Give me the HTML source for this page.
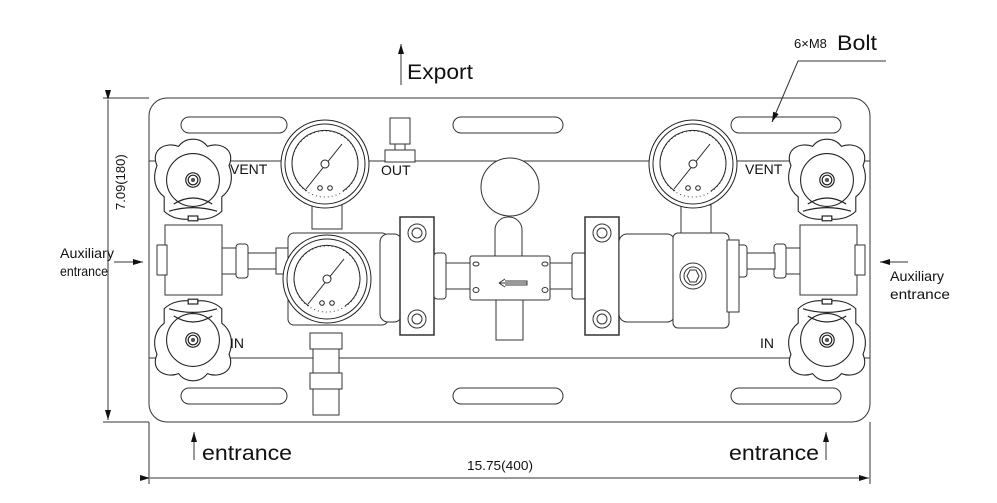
<!DOCTYPE html>
<html><head><meta charset="utf-8"><style>
html,body{margin:0;padding:0;background:#fff}
svg{display:block}
text{font-family:"Liberation Sans",sans-serif;fill:#111}
</style></head><body>
<svg width="997" height="503" viewBox="0 0 997 503" xmlns="http://www.w3.org/2000/svg">
<defs>
<marker id="ah" markerWidth="10" markerHeight="6" refX="10" refY="3" orient="auto" markerUnits="userSpaceOnUse"><path d="M0,0 L10,3 L0,6 Z" fill="#111"/></marker>
<g id="knob">
 <g transform="scale(1.2)">
 <path d="M-30,-12 C-36,-26 -22,-32 -12,-28 C-6,-36 6,-36 12,-28 C22,-32 36,-26 30,-12 C34,-2 32,8 24,14 L24,26 C18,32 8,34 0,32 C-8,34 -18,32 -24,26 L-24,14 C-32,8 -34,-2 -30,-12 Z" fill="#fff" stroke="#222" stroke-width="0.9"/>
 <circle r="22" fill="#fff" stroke="#222" stroke-width="0.9"/>
 <circle r="6" fill="#fff" stroke="#222"/><circle r="4" fill="none" stroke="#222"/><circle r="1.8" fill="#555"/>
 <path d="M-16,20 Q0,10 16,20" fill="none" stroke="#222"/>
 <path d="M-20,26 Q0,20 20,26" fill="none" stroke="#222"/>
 <rect x="-4" y="30" width="8" height="4" fill="#fff" stroke="#222"/>
 </g>
</g>
<g id="gauge">
 <circle r="44" fill="#fff" stroke="#222"/>
 <circle r="40" fill="none" stroke="#222"/>
 <circle r="33" fill="none" stroke="#444" stroke-dasharray="1 3"/>
 <path d="M-18,27 A33,33 0 1 1 18,27" fill="none" stroke="#222"/>
 <line x1="-19" y1="25" x2="17" y2="-20" stroke="#222"/>
 <circle r="4" fill="#fff" stroke="#222"/>
 <circle cx="-5" cy="24" r="2.3" fill="none" stroke="#222"/><circle cx="5" cy="24" r="2.3" fill="none" stroke="#222"/>
</g>
</defs>
<g fill="none" stroke="#333" stroke-width="1">
 <rect x="149" y="98" width="721" height="324" rx="18" fill="#fff"/>
 <line x1="149" y1="161" x2="870" y2="161"/>
 <line x1="149" y1="358" x2="870" y2="358"/>
 <rect x="181" y="117" width="106" height="16" rx="8"/>
 <rect x="453" y="117" width="110" height="16" rx="8"/>
 <rect x="731" y="117" width="110" height="16" rx="8"/>
 <rect x="181" y="388" width="106" height="16" rx="8"/>
 <rect x="453" y="388" width="110" height="16" rx="8"/>
 <rect x="731" y="388" width="110" height="16" rx="8"/>
 <line x1="103" y1="98" x2="149" y2="98"/>
 <line x1="103" y1="422" x2="149" y2="422"/>
 <line x1="108" y1="100" x2="108" y2="420" marker-start="url(#ah)" marker-end="url(#ah)"/>
 <line x1="149" y1="422" x2="149" y2="484"/>
 <line x1="870" y1="422" x2="870" y2="484"/>
 <line x1="150" y1="478" x2="869" y2="478" marker-start="url(#ah)" marker-end="url(#ah)"/>
 <line x1="401" y1="85" x2="401" y2="44" marker-end="url(#ah)"/>
 <line x1="194" y1="460" x2="194" y2="432" marker-end="url(#ah)"/>
 <line x1="826" y1="460" x2="826" y2="432" marker-end="url(#ah)"/>
 <line x1="114" y1="262" x2="143" y2="262" marker-end="url(#ah)"/>
 <line x1="908" y1="262" x2="880" y2="262" marker-end="url(#ah)"/>
 <polyline points="886,61 798,61 772,122" marker-end="url(#ah)"/>
 <rect x="165" y="225" width="57" height="70" fill="#fff"/>
 <rect x="157" y="245" width="10" height="30" fill="#fff"/>
 <rect x="222" y="248" width="14" height="26" fill="#fff"/>
 <rect x="236" y="244" width="12" height="34" rx="3" fill="#fff"/>
 <rect x="248" y="253" width="34" height="16" fill="#fff"/>
 <rect x="276" y="248" width="12" height="26" fill="#fff"/>
 <rect x="800" y="225" width="57" height="70" fill="#fff"/>
 <rect x="855" y="245" width="10" height="30" fill="#fff"/>
 <rect x="786" y="248" width="14" height="26" fill="#fff"/>
 <rect x="774" y="244" width="12" height="34" rx="3" fill="#fff"/>
 <rect x="745" y="253" width="30" height="16" fill="#fff"/>
 <rect x="736" y="245" width="11" height="32" rx="3" fill="#fff"/>
 <rect x="312" y="205" width="30" height="24" fill="#fff"/>
 <rect x="288" y="233" width="100" height="92" rx="6" fill="#fff"/>
 <rect x="380" y="234" width="22" height="88" rx="8" fill="#fff"/>
 <rect x="400" y="217" width="34" height="118" fill="#fff" stroke-width="1.5"/>
 <circle cx="417" cy="233" r="9" fill="#fff"/><circle cx="417" cy="233" r="5"/>
 <circle cx="417" cy="319" r="9" fill="#fff"/><circle cx="417" cy="319" r="5"/>
 <rect x="434" y="253" width="12" height="46" rx="3" fill="#fff"/>
 <rect x="446" y="263" width="24" height="26" fill="#fff"/>
 <rect x="310" y="333" width="32" height="16" fill="#fff"/>
 <rect x="313" y="349" width="26" height="24" fill="#fff"/>
 <rect x="310" y="373" width="32" height="16" fill="#fff"/>
 <rect x="313" y="389" width="26" height="26" fill="#fff"/>
 <rect x="495" y="217" width="27" height="70" rx="13" fill="#fff"/>
 <circle cx="510" cy="187" r="29" fill="#fff"/>
 <rect x="470" y="256" width="80" height="44" rx="2" fill="#fff"/>
 <rect x="496" y="300" width="27" height="40" fill="#fff"/>
 <path d="M527,283 L499,283 M499,283 L505,279 M499,283 L505,287 M505,281 L527,281 L527,285 L505,285"/>
 <ellipse cx="476" cy="264" rx="3" ry="2"/><ellipse cx="545" cy="264" rx="3" ry="2"/>
 <ellipse cx="476" cy="290" rx="3" ry="2.5"/><ellipse cx="545" cy="290" rx="3" ry="2.5"/>
 <rect x="550" y="263" width="22" height="26" fill="#fff"/>
 <rect x="572" y="253" width="14" height="46" rx="3" fill="#fff"/>
 <rect x="585" y="217" width="34" height="118" fill="#fff" stroke-width="1.5"/>
 <circle cx="602" cy="233" r="9" fill="#fff"/><circle cx="602" cy="233" r="5"/>
 <circle cx="602" cy="319" r="9" fill="#fff"/><circle cx="602" cy="319" r="5"/>
 <rect x="619" y="234" width="56" height="88" rx="8" fill="#fff"/>
 <rect x="673" y="233" width="56" height="95" rx="5" fill="#fff"/>
 <rect x="727" y="240" width="12" height="72" fill="#fff"/>
 <rect x="681" y="205" width="30" height="28" fill="#fff"/>
 <circle cx="693" cy="276" r="13" fill="#fff"/><circle cx="693" cy="276" r="9"/>
 <polygon points="687,276 690,270 696,270 699,276 696,282 690,282"/>
 <rect x="390" y="118" width="20" height="26" fill="#fff"/>
 <rect x="385" y="150" width="30" height="12" fill="#fff"/>
 <rect x="395" y="144" width="10" height="6" fill="#fff"/>
</g>
<use href="#gauge" x="325" y="164"/>
<use href="#gauge" x="327" y="279"/>
<use href="#gauge" x="693" y="164"/>
<use href="#knob" x="193" y="180"/>
<use href="#knob" x="193" y="340" transform="rotate(180 193 340)"/>
<use href="#knob" x="827" y="180"/>
<use href="#knob" x="827" y="340" transform="rotate(180 827 340)"/>
<text x="230" y="174" font-size="14">VENT</text>
<text x="381" y="175" font-size="14">OUT</text>
<text x="745" y="174" font-size="14">VENT</text>
<text x="230" y="348" font-size="14">IN</text>
<text x="760" y="348" font-size="14">IN</text>
<text x="407" y="79" font-size="21" textLength="66" lengthAdjust="spacingAndGlyphs">Export</text>
<text x="794" y="48" font-size="13">6×M8</text>
<text x="837" y="50" font-size="21" textLength="40" lengthAdjust="spacingAndGlyphs">Bolt</text>
<text x="60" y="258" font-size="14" textLength="54" lengthAdjust="spacingAndGlyphs">Auxiliary</text>
<text x="60" y="276" font-size="14" textLength="48" lengthAdjust="spacingAndGlyphs">entrance</text>
<text x="890" y="281" font-size="14" textLength="54" lengthAdjust="spacingAndGlyphs">Auxiliary</text>
<text x="890" y="299" font-size="14" textLength="60" lengthAdjust="spacingAndGlyphs">entrance</text>
<text x="202" y="460" font-size="21" textLength="90" lengthAdjust="spacingAndGlyphs">entrance</text>
<text x="729" y="460" font-size="21" textLength="90" lengthAdjust="spacingAndGlyphs">entrance</text>
<text x="467" y="470" font-size="13" textLength="66" lengthAdjust="spacingAndGlyphs">15.75(400)</text>
<text x="125" y="210" font-size="13" transform="rotate(-90 125 210)">7.09(180)</text>
</svg>
</body></html>
